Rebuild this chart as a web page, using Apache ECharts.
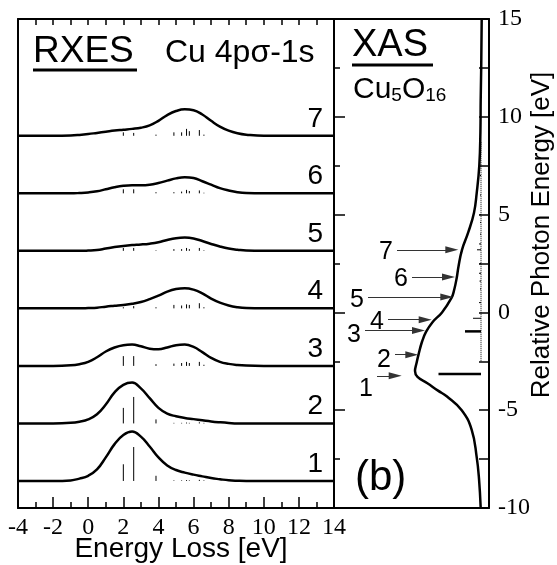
<!DOCTYPE html>
<html lang="en">
<head>
<meta charset="utf-8">
<title>RXES / XAS Cu5O16</title>
<script src="https://cdn.jsdelivr.net/npm/echarts@6/dist/echarts.min.js"></script>
<style>
  html, body { margin: 0; padding: 0; background: #fff; }
  #main { width: 557px; height: 565px; }
</style>
</head>
<body>
<div id="main"></div>
<script type="text/javascript">
// energy loss grid (eV) shared by the 7 RXES spectra
var lossE = [-4, -2, -1, -0.5, 0, 0.5, 1, 1.5, 2, 2.5, 3, 3.5, 4, 4.5, 5, 5.5, 6, 6.5, 7, 7.5, 8, 8.5, 9, 10, 12, 14];
var spec1 = [0, 0, 0.01, 0.04, 0.09, 0.2, 0.41, 0.64, 0.8, 0.86, 0.77, 0.6, 0.41, 0.27, 0.19, 0.145, 0.11, 0.08, 0.05, 0.03, 0.012, 0.004, 0, 0, 0, 0];
var spec2 = [0, 0, 0.01, 0.03, 0.07, 0.16, 0.33, 0.54, 0.67, 0.71, 0.61, 0.44, 0.27, 0.17, 0.125, 0.095, 0.075, 0.055, 0.035, 0.02, 0.008, 0, 0, 0, 0, 0];
var spec3 = [0, 0, 0.01, 0.03, 0.07, 0.15, 0.25, 0.32, 0.36, 0.37, 0.34, 0.3, 0.29, 0.32, 0.36, 0.37, 0.33, 0.24, 0.14, 0.07, 0.035, 0.015, 0.005, 0, 0, 0];
var spec4 = [0, 0, 0, 0, 0.005, 0.012, 0.03, 0.045, 0.06, 0.08, 0.11, 0.16, 0.22, 0.29, 0.335, 0.35, 0.325, 0.26, 0.17, 0.1, 0.05, 0.02, 0.005, 0, 0, 0];
var spec5 = [0, 0, 0, 0, 0.005, 0.015, 0.04, 0.065, 0.085, 0.1, 0.11, 0.125, 0.15, 0.19, 0.22, 0.23, 0.215, 0.17, 0.12, 0.075, 0.04, 0.02, 0.005, 0, 0, 0];
var spec6 = [0, 0, 0, 0.005, 0.015, 0.035, 0.07, 0.105, 0.13, 0.14, 0.14, 0.15, 0.18, 0.22, 0.26, 0.28, 0.265, 0.21, 0.15, 0.09, 0.05, 0.02, 0.005, 0, 0, 0];
var spec7 = [0, 0, 0.005, 0.015, 0.03, 0.05, 0.07, 0.09, 0.105, 0.12, 0.14, 0.18, 0.26, 0.36, 0.43, 0.46, 0.445, 0.37, 0.26, 0.16, 0.09, 0.045, 0.02, 0, 0, 0];

// discrete transitions (sticks) under each spectrum
var stickE = [2.0, 2.59, 3.86, 4.88, 5.32, 5.6, 5.76, 6.33, 6.59];
var stick1 = [0.29, 0.59, 0.09, 0.01, 0.01, 0.015, 0.01, 0.02, 0.01];
var stick2 = [0.27, 0.46, 0.07, 0.01, 0.01, 0.015, 0.01, 0.02, 0.01];
var stick3 = [0.17, 0.17, 0.03, 0.04, 0.05, 0.07, 0.05, 0.07, 0.02];
var stick4 = [0.02, 0.04, 0.02, 0.06, 0.05, 0.07, 0.06, 0.09, 0.02];
var stick5 = [0.05, 0.05, 0.01, 0.03, 0.03, 0.05, 0.03, 0.05, 0.01];
var stick6 = [0.07, 0.07, 0.02, 0.02, 0.03, 0.06, 0.04, 0.05, 0.01];
var stick7 = [0.06, 0.05, 0.02, 0.06, 0.06, 0.12, 0.08, 0.1, 0.02];

// XAS: photon energy (eV) vs intensity (arb. units)
var xasE = [15, 12.5, 10.9, 9.2, 7.5, 6.1, 5.1, 4.1, 3.2, 2.35, 1.76, 1.16, 0.74, 0, -0.5, -1, -1.5, -2.16, -2.6, -3, -3.3, -3.61, -4, -4.3, -5, -6, -7.4, -8.5, -10];
var xasI = [0.03, 0.08, 0.13, 0.16, 0.27, 0.53, 0.8, 1.37, 2.0, 2.35, 2.53, 2.78, 3.05, 4.0, 4.95, 5.6, 6.0, 6.35, 6.55, 6.7, 6.45, 5.5, 4.4, 3.5, 2.03, 1.03, 0.53, 0.3, 0.13];
var xasStickBase = 0.1;
var xasStickE = [-3.15, -0.97, -0.3, 0.5, 1.2, 1.6, 2.0, 2.5, 3.2, 3.5, 4.0, 4.6, 5.0, 6.0, 7.0, 8.0];
var xasStickH = [4.25, 1.6, 0.8, 0.2, 0.1, 0.15, 0.2, 0.15, 0.4, 0.2, 0.1, 0.1, 0.15, 0.1, 0.1, 0.1];
var xasDotE = [8.7, -2.5];

// excitation energies marked by arrows 1..7
var arrowE = [-3.24, -2.16, -0.92, -0.37, 0.79, 1.81, 3.2];
var arrowFrom = [10.5, 8.7, 11.7, 9.4, 11.4, 7.0, 8.5];
var arrowTo = [8.68, 7.02, 6.35, 5.68, 3.52, 3.35, 3.02];
var arrowLabelDy = [13, 5, 5, 2, 3, 2, 2];

var sans = 'Liberation Sans, Arial, sans-serif';
var serif = 'Liberation Serif, Times New Roman, serif';
var spectra = [spec1, spec2, spec3, spec4, spec5, spec6, spec7];
var sticks = [stick1, stick2, stick3, stick4, stick5, stick6, stick7];

var myChart = echarts.init(document.getElementById('main'));

var frame = { onZero: false, lineStyle: { color: '#000', width: 2 } };

var series = [];
spectra.forEach(function (vals, i) {
    series.push({
        name: String(i + 1),
        type: 'line',
        xAxisIndex: 0,
        yAxisIndex: 0,
        smooth: 0.45,
        symbol: 'none',
        silent: true,
        lineStyle: { color: '#000', width: 2.5 },
        data: lossE.map(function (e, j) { return [e, i + vals[j]]; })
    });
});

var stickData = [];
sticks.forEach(function (hs, i) {
    stickE.forEach(function (e, j) { stickData.push([e, hs[j], i]); });
});
series.push({
    type: 'custom',
    xAxisIndex: 0,
    yAxisIndex: 0,
    silent: true,
    renderItem: function (params, api) {
        var p0 = api.coord([api.value(0), api.value(2)]);
        var p1 = api.coord([api.value(0), api.value(2) + api.value(1)]);
        return { type: 'line', shape: { x1: p0[0], y1: p0[1], x2: p1[0], y2: p1[1] },
                 style: { stroke: '#000', lineWidth: 1 } };
    },
    data: stickData
});

// XAS curve + arrows
series.push({
    type: 'line',
    xAxisIndex: 2,
    yAxisIndex: 1,
    smooth: 0.45,
    symbol: 'none',
    silent: true,
    lineStyle: { color: '#000', width: 2.5 },
    data: xasE.map(function (e, j) { return [xasI[j], e]; }),
    markLine: {
        silent: true,
        animation: false,
        symbol: ['none', 'triangle'],
        lineStyle: { color: '#333', width: 1, type: 'solid' },
        label: { show: false },
        emphasis: { disabled: true },
        data: arrowE.map(function (e, j) {
            return [{ coord: [arrowFrom[j], e], symbol: 'none' },
                    { coord: [arrowTo[j], e], symbol: 'triangle', symbolSize: [7, 13],
                      itemStyle: { color: '#000' } }];
        })
    }
});
series.push({
    type: 'line',
    xAxisIndex: 2,
    yAxisIndex: 1,
    symbol: 'none',
    silent: true,
    lineStyle: { color: '#000', width: 1, type: 'dotted' },
    data: xasDotE.map(function (e) { return [xasStickBase, e]; })
});
series.push({
    type: 'custom',
    xAxisIndex: 2,
    yAxisIndex: 1,
    silent: true,
    renderItem: function (params, api) {
        var h = api.value(0);
        var p0 = api.coord([xasStickBase, api.value(1)]);
        var p1 = api.coord([xasStickBase + h, api.value(1)]);
        return { type: 'line', shape: { x1: p0[0], y1: p0[1], x2: p1[0], y2: p1[1] },
                 style: { stroke: '#000', lineWidth: h > 1 ? 2.5 : 1 } };
    },
    data: xasStickE.map(function (e, j) { return [xasStickH[j], e]; })
});

myChart.setOption({
    animation: false,
    grid: [
        { left: 18, top: 19, width: 316, height: 489, outerBoundsMode: 'none' },
        { left: 334, top: 19, width: 155, height: 489, outerBoundsMode: 'none' }
    ],
    xAxis: [
        {
            gridIndex: 0, type: 'value', position: 'bottom', min: -4, max: 14, interval: 2,
            axisLine: frame,
            axisTick: { inside: true, length: 11, lineStyle: { color: '#000', width: 1.5 } },
            minorTick: { show: true, splitNumber: 2, length: 6, lineStyle: { color: '#000', width: 1.5 } },
            splitLine: { show: false },
            axisLabel: { color: '#000', fontFamily: serif, fontSize: 24, margin: 8,
                         showMinLabel: true, showMaxLabel: true }
        },
        {
            gridIndex: 0, type: 'value', position: 'top', min: -4, max: 14, interval: 2,
            axisLine: frame,
            axisTick: { inside: true, length: 6, lineStyle: { color: '#000', width: 1.5 } },
            minorTick: { show: true, splitNumber: 2, length: 6, lineStyle: { color: '#000', width: 1.5 } },
            splitLine: { show: false },
            axisLabel: { show: false }
        },
        {
            gridIndex: 1, type: 'value', position: 'bottom', min: -0.7, max: 14.8, inverse: true,
            axisLine: frame, axisTick: { show: false }, splitLine: { show: false }, axisLabel: { show: false }
        },
        {
            gridIndex: 1, type: 'value', position: 'top', min: -0.7, max: 14.8, inverse: true,
            axisLine: frame, axisTick: { show: false }, splitLine: { show: false }, axisLabel: { show: false }
        }
    ],
    yAxis: [
        {
            gridIndex: 0, type: 'value', position: 'left', min: -0.47, max: 8.03,
            axisLine: frame, axisTick: { show: false }, splitLine: { show: false }, axisLabel: { show: false }
        },
        {
            gridIndex: 1, type: 'value', position: 'right', min: -10, max: 15, interval: 5,
            axisLine: frame,
            axisTick: { inside: true, length: 10, lineStyle: { color: '#000', width: 1.5 } },
            minorTick: { show: true, splitNumber: 2, length: 10, lineStyle: { color: '#000', width: 1.5 } },
            splitLine: { show: false },
            axisLabel: { color: '#000', fontFamily: serif, fontSize: 24, margin: 9,
                         showMinLabel: true, showMaxLabel: true }
        },
        {
            gridIndex: 1, type: 'value', position: 'left', min: -10, max: 15, interval: 5,
            axisLine: frame,
            axisTick: { inside: true, length: 11, lineStyle: { color: '#000', width: 1.5 } },
            minorTick: { show: true, splitNumber: 2, length: 6, lineStyle: { color: '#000', width: 1.5 } },
            splitLine: { show: false },
            axisLabel: { show: false }
        }
    ],
    series: series
});

// text annotations
var graphics = [
    { type: 'text', x: 33, y: 52, style: { text: 'RXES', fontSize: 37, fontFamily: sans, fill: '#000', align: 'left', verticalAlign: 'middle' } },
    { type: 'rect', shape: { x: 33, y: 68.5, width: 104, height: 3 }, style: { fill: '#000' } },
    { type: 'text', x: 165, y: 53, style: { text: 'Cu 4p\u03c3-1s', fontSize: 32, fontFamily: sans, fill: '#000', align: 'left', verticalAlign: 'middle' } },
    { type: 'text', x: 352, y: 45.5, style: { text: 'XAS', fontSize: 38, fontFamily: sans, fill: '#000', align: 'left', verticalAlign: 'middle' } },
    { type: 'rect', shape: { x: 352, y: 63.5, width: 81, height: 3 }, style: { fill: '#000' } },
    { type: 'text', x: 353, y: 90, style: { text: '{a|Cu}{s|5}{a|O}{s|16}', fill: '#000', align: 'left', verticalAlign: 'middle',
        rich: { a: { fontSize: 30, fontFamily: sans, verticalAlign: 'bottom' }, s: { fontSize: 19, fontFamily: sans, verticalAlign: 'bottom' } } } },
    { type: 'text', x: 355, y: 478, style: { text: '(b)', fontSize: 42, fontFamily: sans, fill: '#000', align: 'left', verticalAlign: 'middle' } },
    { type: 'text', x: 181, y: 549, style: { text: 'Energy Loss [eV]', fontSize: 28, fontFamily: sans, fill: '#000', align: 'center', verticalAlign: 'middle' } },
    { type: 'text', x: 542, y: 235, rotation: Math.PI / 2, style: { text: 'Relative Photon Energy [eV]', fontSize: 26, fontFamily: sans, fill: '#000', align: 'center', verticalAlign: 'middle' } }
];

spectra.forEach(function (vals, i) {
    var p = myChart.convertToPixel({ xAxisIndex: 0, yAxisIndex: 0 }, [14, i]);
    graphics.push({ type: 'text', x: p[0] - 11, y: p[1] - 17, style: { text: String(i + 1), fontSize: 28, fontFamily: sans, fill: '#000', align: 'right', verticalAlign: 'middle' } });
});

arrowE.forEach(function (e, j) {
    var p = myChart.convertToPixel({ xAxisIndex: 2, yAxisIndex: 1 }, [arrowFrom[j], e]);
    graphics.push({ type: 'text', x: p[0] - 4, y: p[1] + arrowLabelDy[j], style: { text: String(j + 1), fontSize: 25, fontFamily: sans, fill: '#000', align: 'right', verticalAlign: 'middle' } });
});

myChart.setOption({ graphic: graphics });
</script>
</body>
</html>
